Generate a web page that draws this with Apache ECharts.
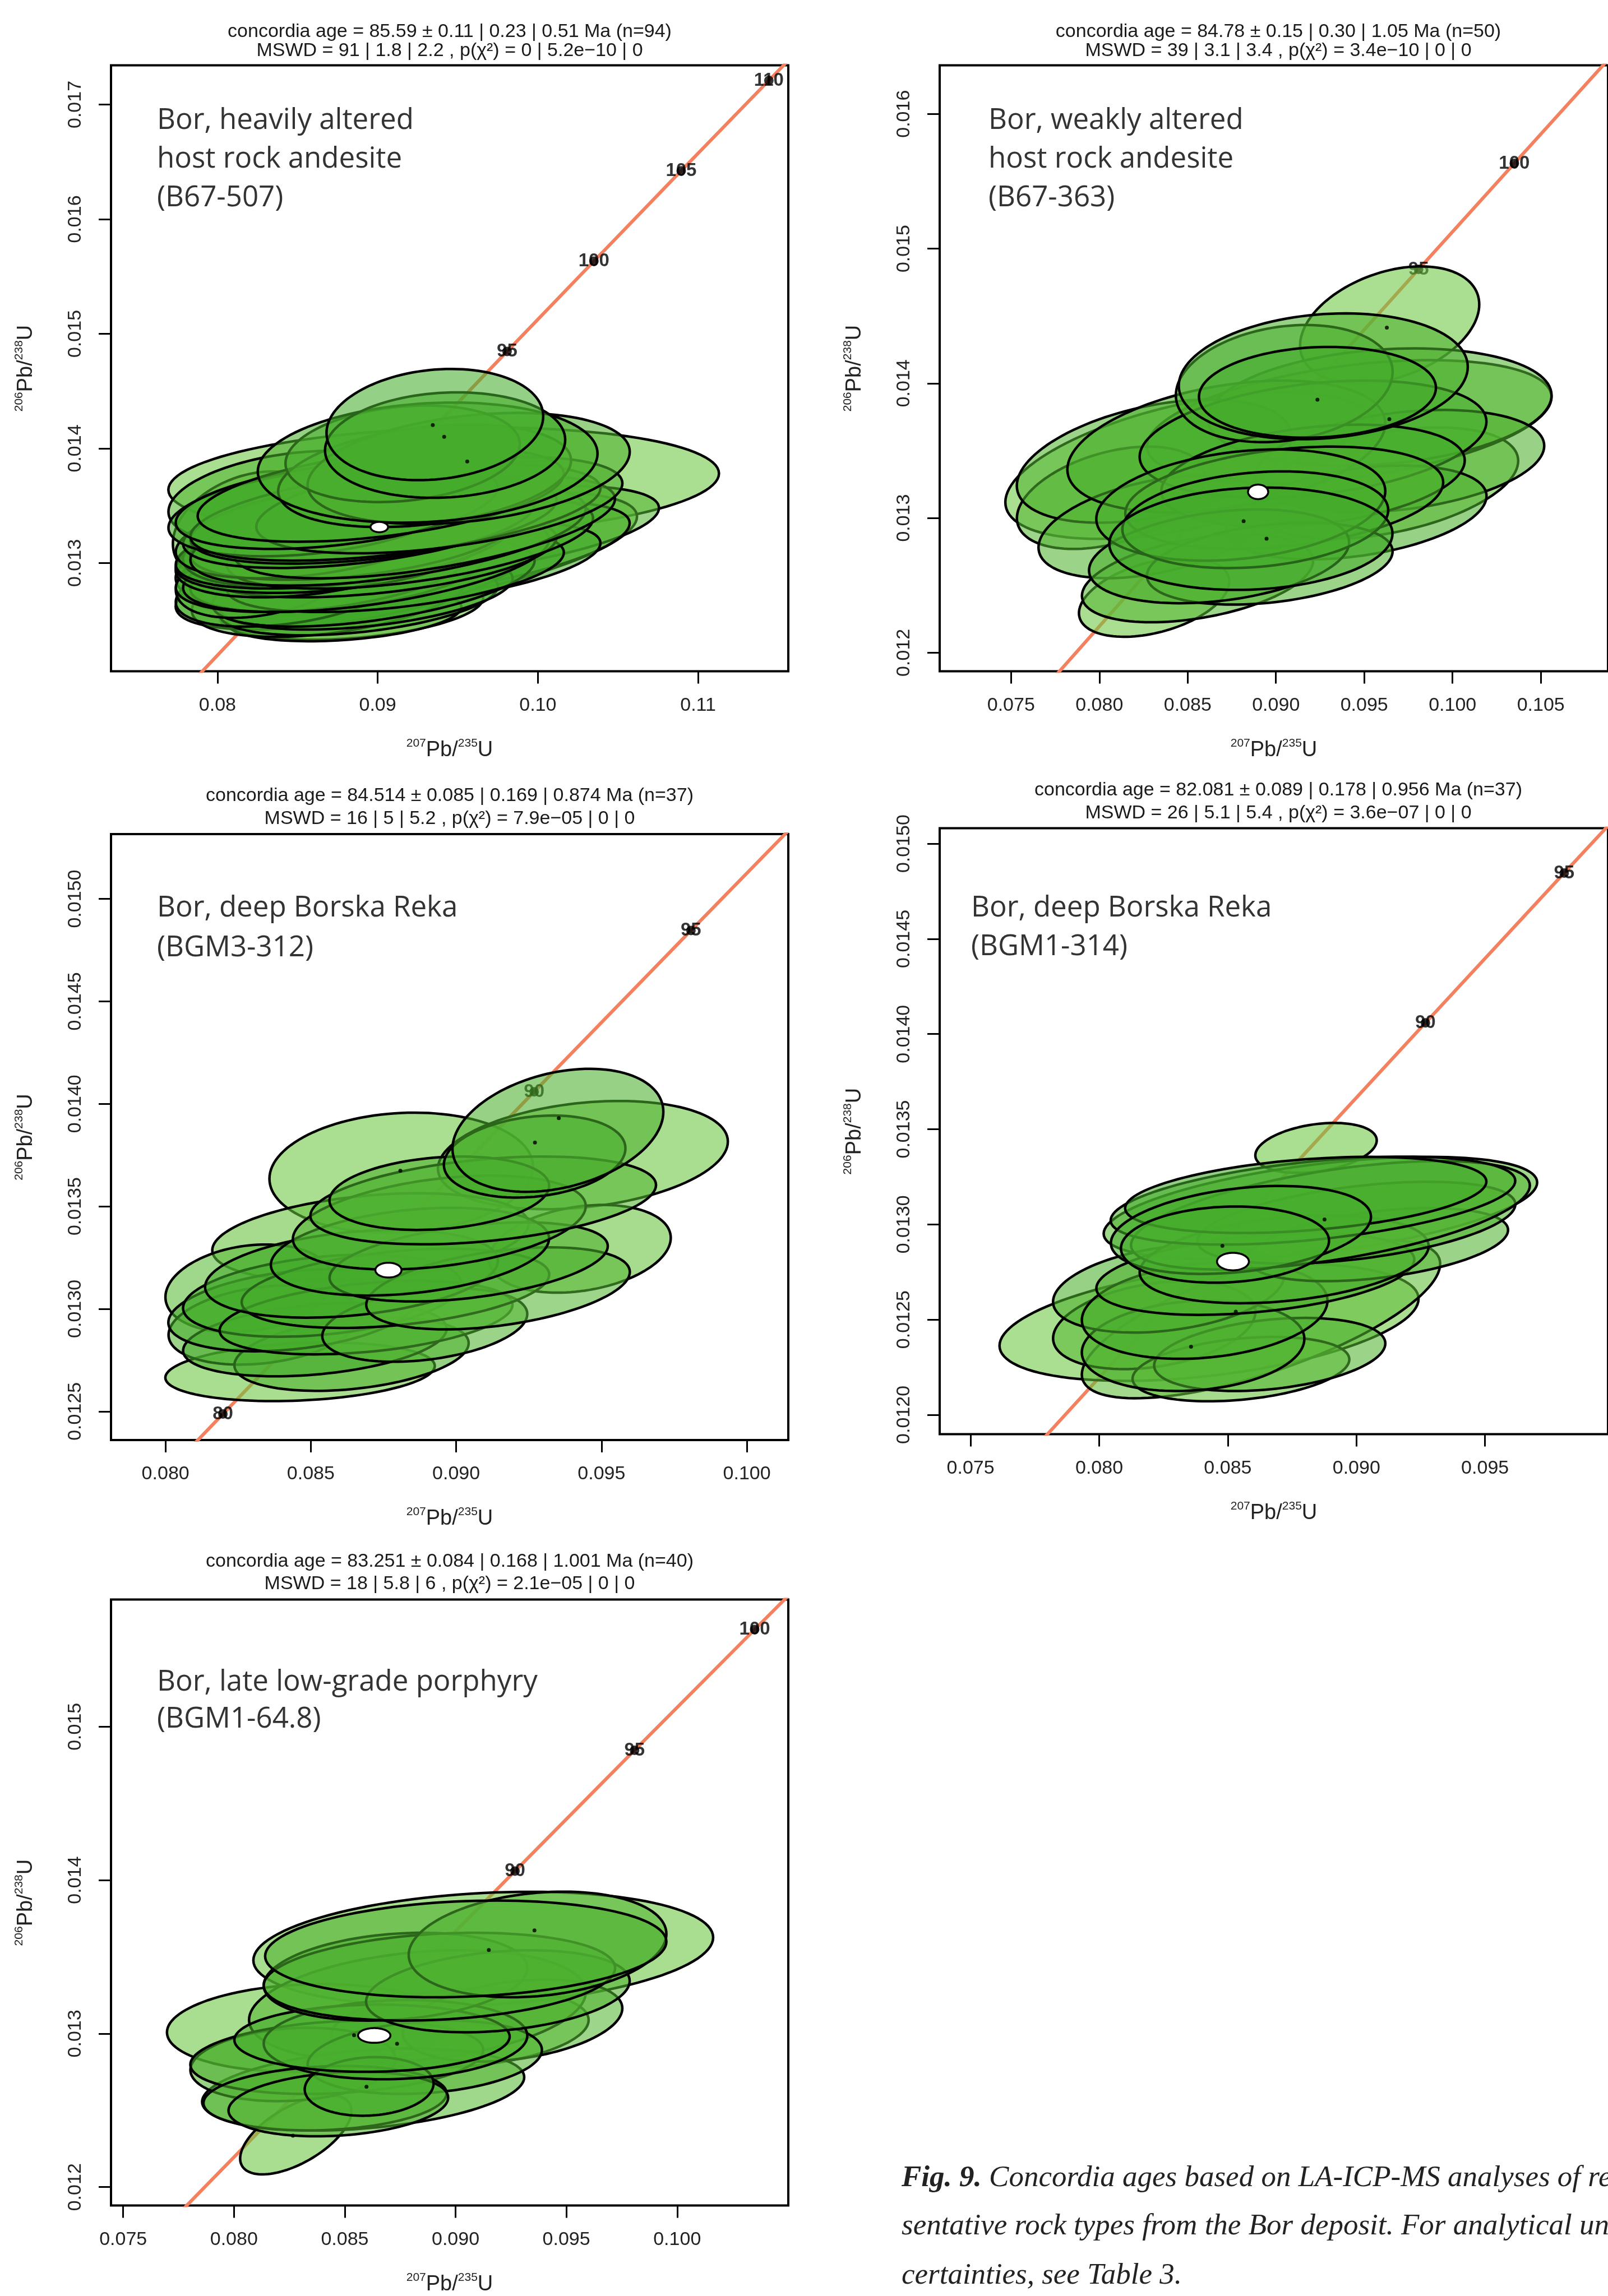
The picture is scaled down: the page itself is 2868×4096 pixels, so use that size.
<!DOCTYPE html>
<html><head><meta charset="utf-8">
<script src="https://cdn.jsdelivr.net/npm/echarts@6/dist/echarts.min.js"></script>
<style>html,body{margin:0;padding:0;background:#fff;}#c{width:2868px;height:4096px;}</style>
</head><body><div id="c"></div>
<script>
// ---------- concordia curve (age in Ma, 207Pb/235U, 206Pb/238U) ----------
const concordiaAges = [70, 75, 80, 85, 90, 95, 100, 105, 110, 115];
const concordiaX = [0.071371, 0.076660, 0.081975, 0.087316, 0.092683, 0.098077, 0.103498, 0.108945, 0.114419, 0.119921];
const concordiaY = [0.010918, 0.011702, 0.012487, 0.013273, 0.014059, 0.014846, 0.015633, 0.016422, 0.017210, 0.017999];

// ---------- tick values ----------
const p1XTicks = [0.08, 0.09, 0.10, 0.11];
const p1YTicks = [0.013, 0.014, 0.015, 0.016, 0.017];
const p2XTicks = [0.075, 0.080, 0.085, 0.090, 0.095, 0.100, 0.105];
const p2YTicks = [0.012, 0.013, 0.014, 0.015, 0.016];
const p3XTicks = [0.080, 0.085, 0.090, 0.095, 0.100];
const p3YTicks = [0.0125, 0.0130, 0.0135, 0.0140, 0.0145, 0.0150];
const p4XTicks = [0.075, 0.080, 0.085, 0.090, 0.095];
const p4YTicks = [0.0120, 0.0125, 0.0130, 0.0135, 0.0140, 0.0145, 0.0150];
const p5XTicks = [0.075, 0.080, 0.085, 0.090, 0.095, 0.100];
const p5YTicks = [0.012, 0.013, 0.014, 0.015];

// ---------- labelled concordia ages visible in each panel ----------
const p1MarkerAges = [95, 100, 105, 110];
const p2MarkerAges = [95, 100];
const p3MarkerAges = [80, 90, 95];
const p4MarkerAges = [90, 95];
const p5MarkerAges = [90, 95, 100];

// ---------- error ellipses: [x, y, halfX, halfY, rho, shade] ----------
const p1Ellipses = [
 [0.09412,0.013710,0.017185,0.000473,0.15,0.05],[0.08197,0.013314,0.004753,0.000485,0.3,0.1],
 [0.08471,0.013570,0.007770,0.000409,0.3,0.4],[0.08836,0.012612,0.008227,0.000281,0.3,0.1],
 [0.08791,0.012548,0.007313,0.000230,0.3,0.3],[0.09202,0.013084,0.014169,0.000536,0.6,0.2],
 [0.09659,0.013289,0.010969,0.000383,0.5,0.35],[0.09476,0.013123,0.010969,0.000409,0.55,0.5],
 [0.09385,0.012995,0.010055,0.000358,0.5,0.6],[0.08836,0.012867,0.010969,0.000447,0.55,0.5],
 [0.08708,0.012739,0.008684,0.000383,0.4,0.6],[0.08882,0.012676,0.008684,0.000306,0.4,0.5],
 [0.08928,0.012739,0.009141,0.000319,0.4,0.55],[0.08379,0.012995,0.006399,0.000358,0.35,0.45],
 [0.08471,0.012803,0.007313,0.000358,0.4,0.5],[0.08974,0.012829,0.010055,0.000383,0.5,0.7],
 [0.08334,0.012931,0.005942,0.000409,0.4,0.4],[0.08745,0.012906,0.009141,0.000332,0.4,0.6],
 [0.08654,0.012931,0.009141,0.000358,0.4,0.7],[0.09111,0.012931,0.010512,0.000358,0.45,0.6],
 [0.08928,0.012995,0.011426,0.000421,0.5,0.5],[0.09019,0.013059,0.010969,0.000358,0.45,0.55],
 [0.08562,0.013059,0.008227,0.000358,0.35,0.6],[0.08699,0.013084,0.009598,0.000345,0.35,0.7],
 [0.08516,0.013161,0.007313,0.000358,0.35,0.5],[0.08791,0.013161,0.010512,0.000383,0.45,0.6],
 [0.09202,0.013186,0.011426,0.000409,0.5,0.5],[0.08836,0.013212,0.010055,0.000358,0.4,0.65],
 [0.08608,0.013250,0.008684,0.000383,0.4,0.6],[0.09065,0.013250,0.012340,0.000447,0.5,0.45],
 [0.09293,0.013314,0.011883,0.000447,0.55,0.5],[0.08882,0.013340,0.010969,0.000383,0.45,0.65],
 [0.08974,0.013378,0.011426,0.000383,0.45,0.55],[0.08608,0.013442,0.009141,0.000383,0.35,0.6],
 [0.09111,0.013442,0.012797,0.000421,0.5,0.5],[0.09385,0.013506,0.011426,0.000421,0.45,0.45],
 [0.08745,0.013506,0.010055,0.000383,0.4,0.6],[0.09019,0.013595,0.011426,0.000409,0.45,0.55],
 [0.09293,0.013761,0.009141,0.000447,0.3,0.5],[0.09568,0.013825,0.010055,0.000485,0.3,0.45],
 [0.09156,0.013953,0.007313,0.000421,0.2,0.6],[0.09312,0.013876,0.010604,0.000524,0.15,0.5],
 [0.09421,0.014029,0.007496,0.000460,0.1,0.6],[0.09357,0.014208,0.006764,0.000485,0.15,0.55]
];
const p2Ellipses = [
 [0.08515,0.013389,0.010474,0.000544,0.5,0.05],[0.08310,0.012411,0.004255,0.000293,0.4,0.05],
 [0.09619,0.013259,0.007528,0.000413,0.4,0.15],[0.09644,0.014433,0.005073,0.000435,0.35,0.05],
 [0.09415,0.013715,0.011456,0.000457,0.4,0.3],[0.09587,0.013824,0.009738,0.000435,0.2,0.35],
 [0.08065,0.013150,0.005319,0.000380,0.4,0.35],[0.08310,0.013422,0.007774,0.000457,0.4,0.4],
 [0.08310,0.012933,0.006546,0.000380,0.4,0.4],[0.08556,0.012552,0.006546,0.000326,0.4,0.35],
 [0.09701,0.013422,0.008183,0.000380,0.3,0.45],[0.09456,0.013041,0.007365,0.000348,0.35,0.5],
 [0.08719,0.013531,0.009001,0.000489,0.35,0.5],[0.09210,0.013585,0.009820,0.000435,0.3,0.55],
 [0.09210,0.013313,0.008592,0.000380,0.3,0.55],[0.09047,0.013150,0.009001,0.000380,0.3,0.45],
 [0.08965,0.012661,0.006956,0.000304,0.3,0.4],[0.08678,0.012715,0.007365,0.000348,0.3,0.5],
 [0.08801,0.013096,0.008183,0.000413,0.25,0.5],[0.08883,0.012987,0.007528,0.000359,0.2,0.55],
 [0.08858,0.012846,0.008019,0.000380,0.1,0.6],[0.09047,0.013998,0.006137,0.000435,0.2,0.5],
 [0.09268,0.014052,0.008183,0.000467,0.15,0.5],[0.09235,0.013933,0.006710,0.000337,0.1,0.6]
];
const p3Ellipses = [
 [0.08811,0.013664,0.004534,0.000293,0.1,0.05],[0.09436,0.013750,0.004987,0.000264,0.25,0.08],
 [0.09426,0.013293,0.003123,0.000214,0.25,0.12],[0.08705,0.013350,0.005441,0.000214,0.3,0.15],
 [0.08463,0.012693,0.004635,0.000143,0.2,0.08],[0.08287,0.013100,0.002872,0.000214,0.2,0.3],
 [0.08338,0.012921,0.003275,0.000193,0.25,0.4],[0.08640,0.012779,0.004030,0.000179,0.3,0.5],
 [0.08514,0.012850,0.004534,0.000179,0.3,0.6],[0.08438,0.012993,0.004282,0.000200,0.3,0.6],
 [0.08539,0.013064,0.004786,0.000200,0.3,0.55],[0.08690,0.012957,0.005038,0.000179,0.35,0.55],
 [0.08892,0.012921,0.003526,0.000179,0.3,0.4],[0.08791,0.013100,0.005290,0.000193,0.35,0.5],
 [0.08640,0.013171,0.005038,0.000214,0.3,0.6],[0.09144,0.013100,0.004534,0.000200,0.4,0.35],
 [0.09043,0.013229,0.004786,0.000193,0.4,0.5],[0.08841,0.013279,0.004786,0.000214,0.3,0.6],
 [0.08942,0.013421,0.005038,0.000229,0.35,0.5],[0.09093,0.013529,0.005945,0.000214,0.35,0.4],
 [0.08942,0.013564,0.003778,0.000179,0.2,0.5],[0.09270,0.013743,0.003123,0.000200,0.2,0.6],
 [0.09350,0.013871,0.003627,0.000300,0.3,0.5]
];
const p4Ellipses = [
 [0.08427,0.012486,0.008146,0.000308,0.4,0.05],[0.08629,0.012502,0.006966,0.000415,0.7,0.2],
 [0.08843,0.013402,0.002360,0.000131,0.3,0.05],[0.08860,0.013086,0.008427,0.000269,0.5,0.3],
 [0.08214,0.012471,0.003933,0.000231,0.3,0.3],[0.08551,0.012240,0.004214,0.000169,0.3,0.15],
 [0.08663,0.012317,0.004494,0.000192,0.3,0.4],[0.08365,0.012363,0.004326,0.000238,0.15,0.45],
 [0.08270,0.012663,0.004494,0.000231,0.3,0.5],[0.08410,0.012548,0.004775,0.000254,0.2,0.5],
 [0.08607,0.012740,0.006180,0.000215,0.35,0.45],[0.09084,0.012894,0.005056,0.000192,0.4,0.4],
 [0.08719,0.012817,0.005618,0.000231,0.3,0.5],[0.09000,0.013009,0.006180,0.000215,0.45,0.5],
 [0.08899,0.013048,0.007753,0.000285,0.55,0.35],[0.08831,0.013125,0.007865,0.000231,0.45,0.5],
 [0.08803,0.013155,0.007023,0.000200,0.35,0.6],[0.08551,0.012971,0.005056,0.000231,0.3,0.55],
 [0.08489,0.012894,0.004045,0.000200,0.1,0.55]
];
const p5Ellipses = [
 [0.09125,0.013552,0.010375,0.000372,0.2,0.08],[0.08332,0.013037,0.006344,0.000286,0.1,0.08],
 [0.08279,0.012341,0.002511,0.000258,0.6,0.08],[0.09019,0.013037,0.005815,0.000258,0.2,0.2],
 [0.08828,0.013180,0.007600,0.000363,0.25,0.35],[0.08583,0.012636,0.007269,0.000267,0.3,0.3],
 [0.09257,0.013085,0.004956,0.000267,0.3,0.35],[0.08266,0.012799,0.004626,0.000239,0.15,0.45],
 [0.08464,0.012846,0.006609,0.000239,0.2,0.5],[0.08861,0.012846,0.005287,0.000239,0.2,0.4],
 [0.08411,0.012579,0.005485,0.000210,0.15,0.5],[0.08471,0.012541,0.004956,0.000210,0.2,0.45],
 [0.08610,0.012656,0.002908,0.000191,0.1,0.55],[0.08729,0.012961,0.005948,0.000258,0.1,0.5],
 [0.08623,0.012970,0.006212,0.000219,0.05,0.55],[0.08729,0.013371,0.005948,0.000286,0.2,0.45],
 [0.09191,0.013276,0.005948,0.000267,0.25,0.45],[0.08927,0.013371,0.007930,0.000286,0.2,0.5],
 [0.09370,0.013581,0.005815,0.000344,0.2,0.4],[0.09046,0.013552,0.009054,0.000315,0.15,0.5]
];

// ---------- concordia-age ellipses (white) ----------
const p1AgeEllipse = [[0.09010,0.013314,0.00055,0.000045,0]];
const p2AgeEllipse = [[0.08899,0.013194,0.00057,0.000054,0]];
const p3AgeEllipse = [[0.08767,0.013189,0.00045,0.000036,0]];
const p4AgeEllipse = [[0.08520,0.012805,0.00062,0.000046,0]];
const p5AgeEllipse = [[0.08633,0.012988,0.00073,0.000048,0]];

// ---------- measured centres shown as dots ----------
const p1Dots = [[0.09344,0.014204],[0.09415,0.014101],[0.09559,0.013886]];
const p2Dots = [[0.09235,0.013878],[0.09642,0.013734],[0.08817,0.012976],[0.08947,0.012846],[0.09628,0.014413]];
const p3Dots = [[0.09353,0.013930],[0.09271,0.013811],[0.08808,0.013674]];
const p4Dots = [[0.08876,0.013026],[0.08479,0.012888],[0.08531,0.012542],[0.08357,0.012358]];
const p5Dots = [[0.08542,0.012990],[0.08736,0.012934],[0.09150,0.013545],[0.09356,0.013673],[0.08598,0.012654],[0.08266,0.012335]];

// ---------- texts ----------
const p1Title = ['concordia age = 85.59 ± 0.11 | 0.23 | 0.51 Ma (n=94)', 'MSWD = 91 | 1.8 | 2.2 , p(χ²) = 0 | 5.2e−10 | 0'];
const p2Title = ['concordia age = 84.78 ± 0.15 | 0.30 | 1.05 Ma (n=50)', 'MSWD = 39 | 3.1 | 3.4 , p(χ²) = 3.4e−10 | 0 | 0'];
const p3Title = ['concordia age = 84.514 ± 0.085 | 0.169 | 0.874 Ma (n=37)', 'MSWD = 16 | 5 | 5.2 , p(χ²) = 7.9e−05 | 0 | 0'];
const p4Title = ['concordia age = 82.081 ± 0.089 | 0.178 | 0.956 Ma (n=37)', 'MSWD = 26 | 5.1 | 5.4 , p(χ²) = 3.6e−07 | 0 | 0'];
const p5Title = ['concordia age = 83.251 ± 0.084 | 0.168 | 1.001 Ma (n=40)', 'MSWD = 18 | 5.8 | 6 , p(χ²) = 2.1e−05 | 0 | 0'];
const p1Label = ['Bor, heavily altered', 'host rock andesite', '(B67-507)'];
const p2Label = ['Bor, weakly altered', 'host rock andesite', '(B67-363)'];
const p3Label = ['Bor, deep Borska Reka', '(BGM3-312)'];
const p4Label = ['Bor, deep Borska Reka', '(BGM1-314)'];
const p5Label = ['Bor, late low-grade porphyry', '(BGM1-64.8)'];
const captionLines = ['Concordia ages based on LA-ICP-MS analyses of repre-',
  'sentative rock types from the Bor deposit. For analytical un-',
  'certainties, see Table 3.'];

// ---------- layout ----------
const panels = [
  {grid:{left:198, top:116.5, width:1208, height:1081}, xr:[0.073355,0.115632], yr:[0.012056,0.017342],
   xt:p1XTicks, xd:2, yt:p1YTicks, yd:3, ell:p1Ellipses, age:p1AgeEllipse, dots:p1Dots, marks:p1MarkerAges,
   title:p1Title, titleY:[56.5,91], label:p1Label, labelX:280, labelY:[215,284,353]},
  {grid:{left:1676, top:116.5, width:1208, height:1081}, xr:[0.070958,0.108804], yr:[0.011862,0.016361],
   xt:p2XTicks, xd:3, yt:p2YTicks, yd:3, ell:p2Ellipses, age:p2AgeEllipse, dots:p2Dots, marks:p2MarkerAges,
   title:p2Title, titleY:[56.5,91], label:p2Label, labelX:1763, labelY:[215,284,353]},
  {grid:{left:198, top:1488, width:1208, height:1081}, xr:[0.078126,0.101426], yr:[0.012360,0.015316],
   xt:p3XTicks, xd:3, yt:p3YTicks, yd:4, ell:p3Ellipses, age:p3AgeEllipse, dots:p3Dots, marks:p3MarkerAges,
   title:p3Title, titleY:[1420,1461], label:p3Label, labelX:280, labelY:[1620,1691]},
  {grid:{left:1676, top:1477.6, width:1208, height:1081}, xr:[0.073798,0.099781], yr:[0.011898,0.015081],
   xt:p4XTicks, xd:3, yt:p4YTicks, yd:4, ell:p4Ellipses, age:p4AgeEllipse, dots:p4Dots, marks:p4MarkerAges,
   title:p4Title, titleY:[1410,1451], label:p4Label, labelX:1732, labelY:[1620,1689]},
  {grid:{left:198, top:2853.6, width:1208, height:1081}, xr:[0.074451,0.105016], yr:[0.011880,0.015828],
   xt:p5XTicks, xd:3, yt:p5YTicks, yd:3, ell:p5Ellipses, age:p5AgeEllipse, dots:p5Dots, marks:p5MarkerAges,
   title:p5Title, titleY:[2786,2826], label:p5Label, labelX:280, labelY:[3001,3067]}
];

const LIGHT = [112,200,66], DARK = [38,152,28];
function fillFor(s){
  const c = LIGHT.map((v,i)=>Math.round(v + (DARK[i]-v)*s));
  return 'rgba(' + c.join(',') + ',0.58)';
}
function ellipseItem(fill, stroke, lw){
  return function(params, api){
    const cx = api.value(0), cy = api.value(1), rx = api.value(2), ry = api.value(3), rho = api.value(4);
    const sh = api.value(5);
    const s = Math.sqrt(1 - rho*rho);
    const pts = [];
    for (let i = 0; i < 120; i++){
      const t = i/120*2*Math.PI;
      pts.push(api.coord([cx + rx*Math.cos(t), cy + ry*(rho*Math.cos(t) + s*Math.sin(t))]));
    }
    return {type:'polygon', shape:{points:pts}, style:{fill: fill || fillFor(sh), stroke: stroke, lineWidth: lw}};
  };
}

const FONT = 'Liberation Sans, Arial, sans-serif';
const axisNameRich = {
  n:{fontSize:38, fontFamily:FONT, color:'#222', lineHeight:46},
  s:{fontSize:21, fontFamily:FONT, color:'#222', lineHeight:46, verticalAlign:'top'}
};
const grids = [], xAxes = [], yAxes = [], series = [], graphics = [];
panels.forEach((p, k) => {
  grids.push(Object.assign({show:true, borderColor:'#000', borderWidth:4, backgroundColor:'transparent', containLabel:false}, p.grid));
  xAxes.push({type:'value', gridIndex:k, min:p.xr[0], max:p.xr[1], splitLine:{show:false},
    axisLine:{show:false}, axisTick:{show:true, inside:false, length:22, lineStyle:{color:'#000', width:3}, customValues:p.xt},
    axisLabel:{customValues:p.xt, formatter:(v)=>v.toFixed(p.xd), fontSize:34, fontFamily:FONT, color:'#222', margin:44},
    name:'{s|207}{n|Pb/}{s|235}{n|U}', nameLocation:'middle', nameGap:118, nameTextStyle:{rich:axisNameRich}});
  yAxes.push({type:'value', gridIndex:k, min:p.yr[0], max:p.yr[1], splitLine:{show:false},
    axisLine:{show:false}, axisTick:{show:true, inside:false, length:22, lineStyle:{color:'#000', width:3}, customValues:p.yt},
    axisLabel:{customValues:p.yt, formatter:(v)=>v.toFixed(p.yd), fontSize:34, fontFamily:FONT, color:'#222', margin:46, rotate:90},
    name:'{s|206}{n|Pb/}{s|238}{n|U}', nameLocation:'middle', nameRotate:90, nameGap:128, nameTextStyle:{rich:axisNameRich}});
  const curve = concordiaX.map((x,i)=>[x, concordiaY[i]]);
  const marks = p.marks.map(a => { const i = concordiaAges.indexOf(a); return [concordiaX[i], concordiaY[i], a]; });
  series.push({type:'line', xAxisIndex:k, yAxisIndex:k, data:curve, showSymbol:false, clip:true, silent:true,
    lineStyle:{color:'#F3805F', width:6}, z:1});
  series.push({type:'scatter', xAxisIndex:k, yAxisIndex:k, data:marks, symbolSize:1, itemStyle:{color:'rgba(0,0,0,0)'},
    label:{show:true, position:'inside', formatter:(q)=>String(q.value[2]), fontSize:33, fontWeight:'bold', fontFamily:FONT, color:'#000'}, z:2});
  series.push({type:'scatter', xAxisIndex:k, yAxisIndex:k, data:marks, symbolSize:17, itemStyle:{color:'#000'}, z:3});
  series.push({type:'custom', xAxisIndex:k, yAxisIndex:k, data:p.ell, renderItem:ellipseItem(null,'#000',4.5), z:4});
  series.push({type:'scatter', xAxisIndex:k, yAxisIndex:k, data:p.dots, symbolSize:7, itemStyle:{color:'#000'}, z:5});
  series.push({type:'custom', xAxisIndex:k, yAxisIndex:k, data:p.age, renderItem:ellipseItem('#fff','#000',3.5), z:6});
  const cx = p.grid.left + p.grid.width/2;
  p.title.forEach((t,i) => graphics.push({type:'text', x:cx, y:p.titleY[i], style:{text:t, fontSize:34, fontFamily:FONT, fill:'#1a1a1a',
    textAlign:'center', textVerticalAlign:'middle', align:'center', verticalAlign:'middle'}}));
  p.label.forEach((t,i) => graphics.push({type:'text', x:p.labelX, y:p.labelY[i], style:{text:t, fontSize:51, fontFamily:'Open Sans, sans-serif', fill:'#333',
    textAlign:'left', textVerticalAlign:'middle', align:'left', verticalAlign:'middle'}}));
});
const capY = [3886, 3972, 4060];
captionLines.forEach((t,i) => graphics.push({type:'text', x:1608, y:capY[i], style:{
  text: i===0 ? '{b|Fig. 9.\u00a0}{r|' + t + '}' : '{r|' + t + '}',
  rich:{b:{fontSize:53, fontFamily:'Liberation Serif, serif', fontStyle:'italic', fontWeight:'bold', fill:'#222'},
        r:{fontSize:53, fontFamily:'Liberation Serif, serif', fontStyle:'italic', fill:'#222'}},
  textAlign:'left', textVerticalAlign:'middle', align:'left', verticalAlign:'middle'}}));

const chart = echarts.init(document.getElementById('c'), null, {renderer:'canvas'});
chart.setOption({animation:false, backgroundColor:'#fff', grid:grids, xAxis:xAxes, yAxis:yAxes, series:series, graphic:graphics});
</script></body></html>
